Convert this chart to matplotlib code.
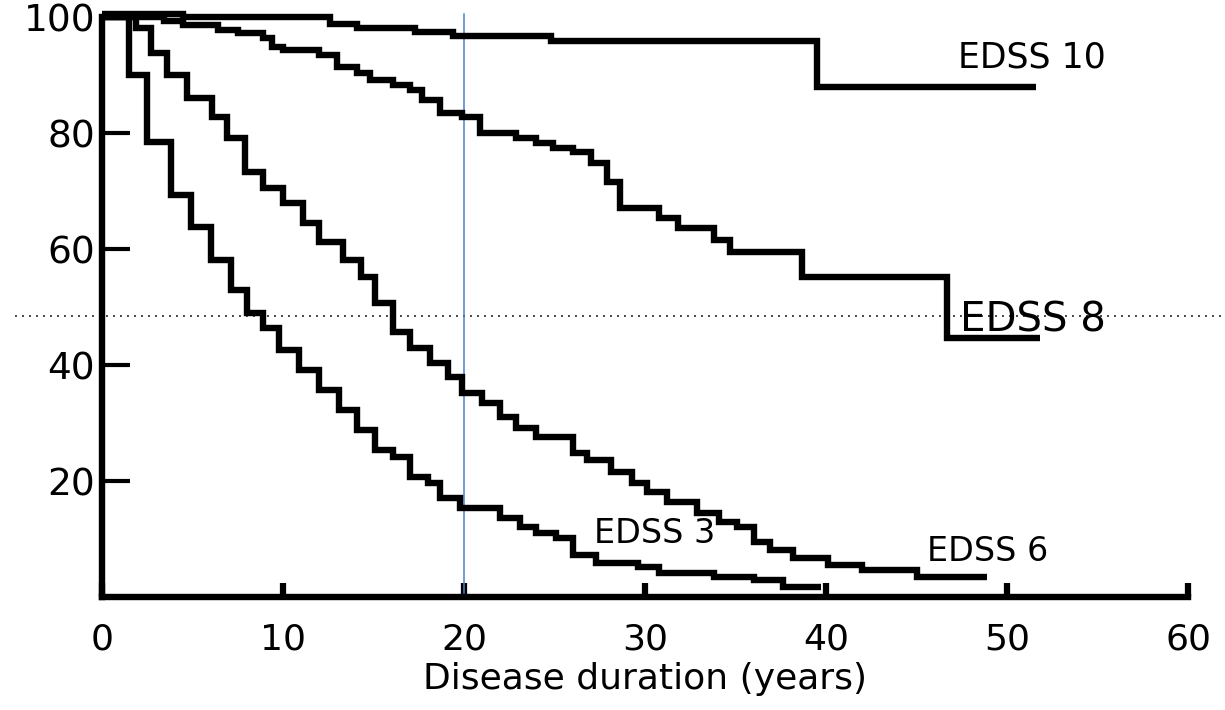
import matplotlib
matplotlib.use("Agg")
import matplotlib.pyplot as plt

plt.rcParams['font.family'] = ['DejaVu Sans']

# ---- data (years, % surviving) ----
edss10_t = [0, 4.5, 12.6, 14.1, 17.3, 19.4, 24.8, 39.5]
edss10_s = [100.5, 100.0, 98.8, 98.1, 97.5, 96.8, 95.9, 88.0]
edss10_end = 51.6

edss8_t = [0, 3.4, 4.5, 6.4, 7.5, 8.9, 9.4, 10.0, 12.0, 13.0, 14.1, 14.8, 16.1,
           17.0, 17.7, 18.7, 19.9, 20.9, 22.9, 24.0, 24.9, 26.0, 27.0, 27.9,
           28.6, 30.8, 31.8, 33.8, 34.7, 38.7, 46.7]
edss8_s = [100.0, 99.3, 98.6, 97.8, 97.2, 96.4, 94.8, 94.3, 93.4, 91.4, 90.3,
           89.1, 88.3, 87.4, 85.7, 83.4, 82.8, 80.0, 79.1, 78.3, 77.4, 76.7,
           74.8, 71.6, 67.1, 65.3, 63.6, 61.6, 59.5, 55.2, 44.7]
edss8_end = 51.8

edss6_t = [0, 1.9, 2.7, 3.6, 4.7, 6.1, 6.9, 7.9, 8.9, 10.0, 11.1, 12.0, 13.3,
           14.3, 15.1, 16.1, 17.0, 18.1, 19.1, 19.9, 21.0, 22.0, 22.9, 24.0,
           26.0, 26.8, 28.1, 29.3, 30.1, 31.2, 32.9, 34.1, 35.1, 36.0, 36.9,
           38.2, 40.1, 42.0, 45.0]
edss6_s = [100.0, 98.1, 93.8, 90.0, 86.0, 82.8, 79.1, 73.3, 70.5, 67.9, 64.5,
           61.2, 58.1, 55.2, 50.7, 45.7, 42.9, 40.3, 37.9, 35.2, 33.4, 31.0,
           29.1, 27.6, 24.8, 23.6, 21.6, 19.7, 18.1, 16.4, 14.5, 12.9, 12.1,
           9.5, 8.1, 6.7, 5.5, 4.7, 3.4]
edss6_end = 48.9

edss3_t = [0, 1.5, 2.5, 3.8, 4.9, 6.0, 7.1, 8.0, 8.9, 9.8, 10.9, 12.0, 13.1,
           14.1, 15.1, 16.1, 17.0, 18.0, 18.7, 19.8, 22.0, 23.1, 24.0, 25.1,
           26.0, 27.3, 29.6, 30.8, 33.8, 36.0, 37.6]
edss3_s = [100.0, 90.0, 78.4, 69.3, 63.8, 58.1, 52.9, 49.0, 46.4, 42.6, 39.1,
           35.7, 32.2, 28.8, 25.3, 24.1, 20.7, 19.7, 17.1, 15.3, 13.6, 12.1,
           11.0, 10.2, 7.2, 5.9, 5.2, 4.1, 3.4, 2.9, 1.7]
edss3_end = 39.7

series_labels = ["EDSS 10", "EDSS 8", "EDSS 6", "EDSS 3"]
label_pos = [(47.3, 93.1), (47.4, 47.6), (45.6, 7.8), (27.2, 11.0)]
label_size = [25, 29, 24, 24]

x_ticks = [0, 10, 20, 30, 40, 50, 60]
y_ticks = [20, 40, 60, 80, 100]
ref_year = 20
ref_level = 48.5
x_label = "Disease duration (years)"

# ---- figure ----
fig = plt.figure(figsize=(12.25, 7.1), dpi=100)
ax = fig.add_axes([102 / 1225, (710 - 597) / 710, 1086 / 1225, 580 / 710])
ax.set_xlim(0, 60)
ax.set_ylim(0, 100)

series = [(edss10_t, edss10_s, edss10_end), (edss8_t, edss8_s, edss8_end),
          (edss6_t, edss6_s, edss6_end), (edss3_t, edss3_s, edss3_end)]
for t, s, end in series:
    ax.step(list(t) + [end], list(s) + [s[-1]], where='post', color='black',
            lw=4.6, solid_joinstyle='miter', solid_capstyle='butt',
            clip_on=False, zorder=3)

# reference lines
ax.plot([ref_year, ref_year], [0, 100.5], color='#4a7fd4', lw=1.1, zorder=2,
        clip_on=False)
ax.plot([-4.8, 62.1], [ref_level, ref_level], color='#444444', lw=1.4,
        linestyle=(0, (1, 2.6)), clip_on=False, zorder=1)

for txt, (lx, ly), fs in zip(series_labels, label_pos, label_size):
    ax.text(lx, ly, txt, fontsize=fs, ha='left', va='center', color='black',
            zorder=4)

# axes styling
for side in ['top', 'right']:
    ax.spines[side].set_visible(False)
for side in ['left', 'bottom']:
    ax.spines[side].set_linewidth(4.6)
    ax.spines[side].set_capstyle('projecting')

ax.set_xticks(x_ticks)
ax.set_xticklabels([str(v) for v in x_ticks])
ax.set_yticks(y_ticks)
ax.set_yticklabels([str(v) for v in y_ticks])
ax.tick_params(axis='x', direction='in', length=10, width=4.5, pad=18,
               labelsize=26)
ax.tick_params(axis='y', direction='in', length=20, width=3.0, pad=5,
               labelsize=27)
ax.set_xlabel(x_label, fontsize=26, labelpad=4)

fig.savefig("out.png", dpi=100)
